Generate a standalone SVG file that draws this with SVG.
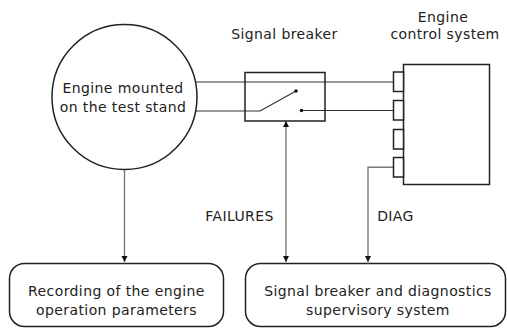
<svg xmlns="http://www.w3.org/2000/svg" width="507" height="329" viewBox="0 0 507 329">
<style>
text{font-family:"DejaVu Sans",Verdana,sans-serif;font-size:14px;letter-spacing:0.4px;fill:#222;text-anchor:middle}
.box{fill:#fff;stroke:#222;stroke-width:1.5}
.conn{fill:none;stroke:#777;stroke-width:1.4}
.wire{fill:none;stroke:#333;stroke-width:1.1}
</style>
<defs>
<marker id="ah" viewBox="0 0 10 10" refX="10" refY="5" markerWidth="6" markerHeight="9" orient="auto-start-reverse" markerUnits="userSpaceOnUse"><path d="M0,0L10,5L0,10z" fill="#111"/></marker>
</defs>
<rect width="507" height="329" fill="#fff"/>
<g id="connectors">
<line class="conn" x1="190" y1="82" x2="393" y2="82"/>
<polyline class="conn" points="190,111 260,111"/>
<polyline class="wire" points="260,111 296,91"/>
<polyline class="wire" points="301.5,110.5 393,110.5"/>
<line class="conn" x1="124.5" y1="169" x2="124.5" y2="262" marker-end="url(#ah)"/>
<line class="conn" x1="286" y1="121" x2="286" y2="262" marker-start="url(#ah)" marker-end="url(#ah)"/>
<polyline class="conn" points="393,167.3 368,167.3 368,262" marker-end="url(#ah)"/>
<text x="239.5" y="221">FAILURES</text>
<text x="395.5" y="221">DIAG</text>
</g>
<g id="engine">
<circle class="box" cx="124.5" cy="97" r="72.5"/>
<text x="123" y="93">Engine mounted</text>
<text x="123" y="112">on the test stand</text>
</g>
<g id="signal-breaker">
<text x="284.5" y="39">Signal breaker</text>
<rect x="245" y="72.5" width="80" height="48.5" fill="none" stroke="#222" stroke-width="1.5"/>
<circle cx="296" cy="91" r="1.8" fill="#111"/>
<circle cx="301.5" cy="110.5" r="1.8" fill="#111"/>
</g>
<g id="ecu">
<text x="443" y="22">Engine</text>
<text x="445" y="39">control system</text>
<rect class="box" x="403.5" y="64.5" width="86" height="120"/>
<rect class="box" x="393.5" y="72" width="10" height="19.5" stroke-width="1.3"/>
<rect class="box" x="393.5" y="100.5" width="10" height="19.5" stroke-width="1.3"/>
<rect class="box" x="393.5" y="129.5" width="10" height="19.5" stroke-width="1.3"/>
<rect class="box" x="393.5" y="157.5" width="10" height="19.5" stroke-width="1.3"/>
</g>
<g id="recording">
<rect class="box" x="9.5" y="263.5" width="214" height="63" rx="15" stroke-width="1.2"/>
<text x="116.5" y="296">Recording of the engine</text>
<text x="116.5" y="315">operation parameters</text>
</g>
<g id="supervisory">
<rect class="box" x="245.5" y="263.5" width="260" height="63" rx="15" stroke-width="1.2"/>
<text x="378" y="296">Signal breaker and diagnostics</text>
<text x="378" y="315">supervisory system</text>
</g>
</svg>
